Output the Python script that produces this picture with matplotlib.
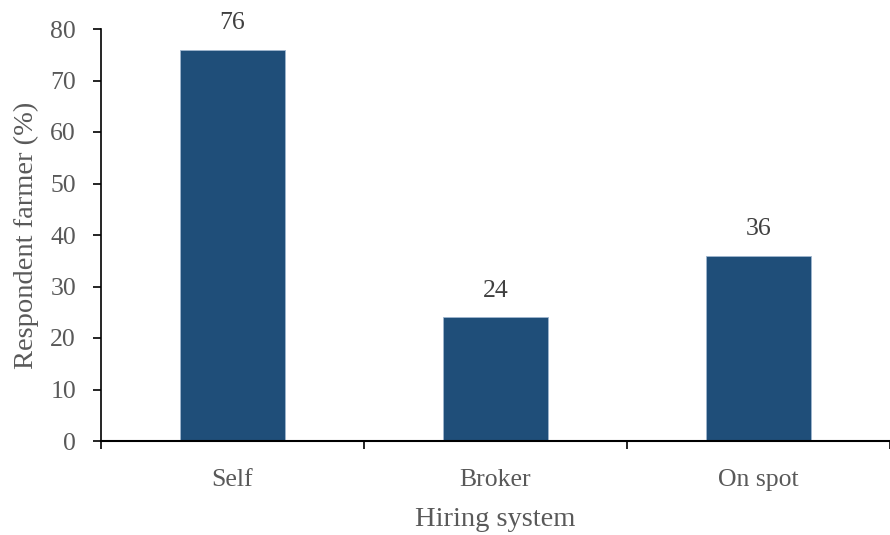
import numpy as np
import matplotlib.pyplot as plt

categories = ["Self", "Broker", "On spot"]
values = [76, 24, 36]
yticks = [0, 10, 20, 30, 40, 50, 60, 70, 80]

plt.rcParams['font.family'] = ['Liberation Serif', 'DejaVu Serif']
grey = '#595959'

fig = plt.figure(figsize=(8.9, 5.35), dpi=100)
ax = fig.add_axes([101 / 890, 1 - 441 / 535, 789 / 890, 412 / 535])

x = np.arange(len(categories))
ax.bar(x, values, width=0.4, color='#1F4E79', edgecolor='#9FB6CF', linewidth=0.6)
for xi, v in zip(x, values):
    ax.annotate(str(v), (xi, v), xytext=(0, 11), textcoords='offset points',
                ha='center', va='bottom', fontsize=18.5, color='#404040')

ax.set_xlim(-0.5, -0.5 + 789 / 265.7)
ax.set_ylim(0, 80)
ax.set_yticks(yticks)
ax.set_xticks([-0.5, 0.5, 1.5, 2.5])
ax.set_xticklabels([])
ax.set_xticks(x, minor=True)
ax.set_xticklabels(categories, minor=True)
ax.tick_params(axis='x', which='minor', length=0, pad=20, labelsize=18.5, labelcolor=grey)
ax.tick_params(axis='x', which='major', length=6, width=1.2, direction='out')
ax.tick_params(axis='y', length=6, width=1.2, pad=12, labelsize=18.5, labelcolor=grey)

for s in ['top', 'right']:
    ax.spines[s].set_visible(False)
ax.spines['left'].set_linewidth(1.2)
ax.spines['bottom'].set_linewidth(1.5)

ax.set_xlabel("Hiring system", fontsize=20.5, color=grey, labelpad=12)
ax.set_ylabel("Respondent farmer (%)", fontsize=20.5, color=grey, labelpad=8)

fig.savefig("out.png", dpi=100)
